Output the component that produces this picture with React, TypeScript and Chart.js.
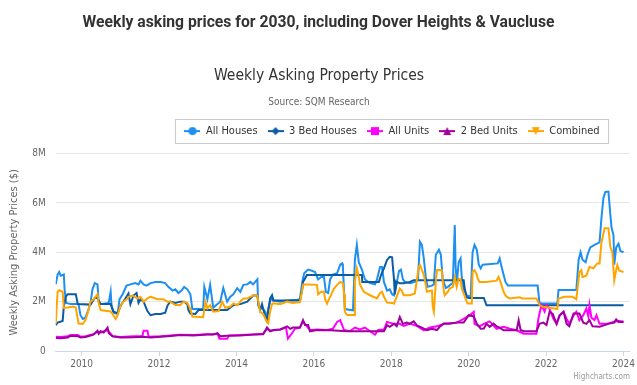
import React, { useEffect, useRef } from "react";
import { Chart, registerables, layouts } from "chart.js";

Chart.register(...registerables);

const FONT = "'DejaVu Sans Condensed', 'DejaVu Sans', sans-serif";
const HEAD_FONT = "Roboto, 'Liberation Sans', sans-serif";

const pageTitle = "Weekly asking prices for 2030, including Dover Heights & Vaucluse";
const chartTitle = "Weekly Asking Property Prices";
const chartSubtitle = "Source: SQM Research";
const yAxisTitle = "Weekly Asking Property Prices ($)";
const creditText = "Highcharts.com";

const seriesNames = ["All Houses", "3 Bed Houses", "All Units", "2 Bed Units", "Combined"];
const seriesColors = ["#1c8ff0", "#0b5ca3", "#ff00ff", "#a000a0", "#ffa500"];
const seriesMarkers = ["circle", "diamond", "square", "triangle", "triangle-down"];

const xTickYears = [2010, 2012, 2014, 2016, 2018, 2020, 2022, 2024];
const yTickValues = [0, 2000000, 4000000, 6000000, 8000000];
const xMin = 2009.33;
const xMax = 2024.15;

// [decimal year, price in $M]
const allHouses = [[2009.33,2.7],[2009.38,3.1],[2009.42,3.2],[2009.46,3.05],[2009.54,3.1],[2009.56,2.5],[2009.60,1.95],[2009.72,1.9],[2009.92,1.9],[2009.97,1.45],[2010.03,1.3],[2010.10,1.35],[2010.18,1.7],[2010.23,1.95],[2010.28,2.5],[2010.34,2.75],[2010.41,2.7],[2010.44,2.0],[2010.49,1.9],[2010.70,1.95],[2010.75,2.4],[2010.77,1.9],[2010.82,1.55],[2010.93,1.5],[2010.98,2.1],[2011.06,2.3],[2011.16,2.65],[2011.26,2.7],[2011.39,2.75],[2011.47,2.7],[2011.52,2.85],[2011.60,2.7],[2011.68,2.65],[2011.78,2.75],[2011.91,2.8],[2012.04,2.8],[2012.16,2.75],[2012.24,2.6],[2012.35,2.45],[2012.42,2.5],[2012.50,2.35],[2012.58,2.45],[2012.65,2.6],[2012.73,2.5],[2012.81,2.3],[2012.86,1.7],[2013.14,1.7],[2013.17,2.6],[2013.25,2.1],[2013.32,2.68],[2013.40,1.75],[2013.51,1.9],[2013.58,2.0],[2013.66,2.55],[2013.76,2.0],[2013.84,2.2],[2013.92,2.3],[2014.02,2.55],[2014.10,2.4],[2014.18,2.68],[2014.28,2.7],[2014.36,2.8],[2014.43,2.7],[2014.54,2.9],[2014.56,1.85],[2014.61,1.7],[2014.66,1.75],[2014.74,1.6],[2014.79,1.35],[2014.82,1.7],[2014.87,2.0],[2014.92,2.2],[2014.95,2.05],[2015.13,2.0],[2015.31,2.05],[2015.57,2.08],[2015.64,2.1],[2015.70,2.8],[2015.75,3.15],[2015.85,3.3],[2015.95,3.25],[2016.03,3.2],[2016.11,2.9],[2016.19,3.0],[2016.26,3.0],[2016.31,2.4],[2016.37,2.35],[2016.42,2.9],[2016.49,3.1],[2016.60,3.15],[2016.68,3.5],[2016.73,3.55],[2016.75,3.4],[2016.80,1.7],[2017.01,1.65],[2017.06,3.7],[2017.11,4.3],[2017.16,3.6],[2017.24,3.3],[2017.32,2.9],[2017.45,2.75],[2017.58,2.7],[2017.63,2.9],[2017.71,3.4],[2017.76,3.4],[2017.81,2.8],[2017.89,2.45],[2017.96,2.5],[2018.02,2.3],[2018.07,2.25],[2018.12,2.6],[2018.20,3.25],[2018.25,3.3],[2018.30,2.9],[2018.35,2.8],[2018.48,2.75],[2018.61,2.8],[2018.69,2.9],[2018.74,4.43],[2018.79,4.3],[2018.84,3.75],[2018.89,3.0],[2018.94,2.6],[2019.05,2.65],[2019.10,2.7],[2019.15,3.9],[2019.23,4.1],[2019.28,3.9],[2019.33,2.9],[2019.41,2.55],[2019.46,2.6],[2019.54,2.7],[2019.59,2.75],[2019.64,5.1],[2019.66,3.5],[2019.69,2.7],[2019.74,3.6],[2019.79,3.75],[2019.82,3.0],[2019.87,2.5],[2019.95,2.25],[2020.05,2.2],[2020.10,4.0],[2020.15,4.3],[2020.21,4.1],[2020.26,3.5],[2020.31,3.35],[2020.36,3.5],[2020.75,3.55],[2020.80,3.75],[2020.85,3.4],[2020.90,3.1],[2020.95,2.8],[2021.01,2.65],[2021.78,2.65],[2021.83,1.92],[2022.29,1.92],[2022.32,2.47],[2022.78,2.47],[2022.84,3.7],[2022.89,4.0],[2022.94,3.7],[2023.02,3.6],[2023.07,3.9],[2023.14,4.2],[2023.25,4.3],[2023.38,4.4],[2023.43,5.4],[2023.48,6.2],[2023.53,6.45],[2023.61,6.46],[2023.66,5.5],[2023.69,5.0],[2023.74,4.7],[2023.76,3.5],[2023.81,4.2],[2023.87,4.35],[2023.92,4.05],[2024.00,4.0]];

const threeBedHouses = [[2009.33,1.05],[2009.38,1.15],[2009.51,1.22],[2009.54,1.8],[2009.59,2.2],[2009.64,2.3],[2009.85,2.3],[2009.90,1.9],[2010.23,1.88],[2010.34,2.15],[2010.41,2.15],[2010.49,1.9],[2010.75,1.9],[2010.82,1.6],[2010.93,1.52],[2011.01,1.85],[2011.13,2.13],[2011.21,2.33],[2011.26,1.9],[2011.34,2.25],[2011.42,2.35],[2011.47,1.95],[2011.52,2.1],[2011.60,2.0],[2011.70,1.62],[2011.78,1.45],[2011.91,1.5],[2012.04,1.5],[2012.16,1.55],[2012.22,1.85],[2012.29,2.0],[2012.42,1.95],[2012.55,2.0],[2012.65,2.0],[2012.73,1.9],[2012.76,1.66],[2012.81,1.52],[2012.94,1.5],[2013.02,1.66],[2013.40,1.66],[2013.76,1.66],[2013.92,1.86],[2014.10,1.9],[2014.28,2.0],[2014.43,2.25],[2014.54,2.25],[2014.56,2.0],[2014.61,1.66],[2014.66,1.9],[2014.74,1.4],[2014.79,1.3],[2014.82,1.6],[2014.87,2.13],[2014.92,2.26],[2014.95,2.05],[2015.31,2.05],[2015.64,2.05],[2015.70,2.5],[2015.72,2.8],[2015.82,3.08],[2017.24,3.08],[2017.25,2.8],[2017.68,2.8],[2017.74,3.1],[2017.81,3.35],[2017.89,3.69],[2017.96,3.82],[2018.02,3.8],[2018.07,2.9],[2018.09,2.3],[2018.14,2.8],[2018.22,2.75],[2018.32,2.75],[2018.48,2.8],[2018.58,2.87],[2019.87,2.87],[2019.90,2.5],[2019.95,2.17],[2020.00,2.15],[2020.39,2.15],[2020.46,1.85],[2024.00,1.85]];

const allUnits = [[2009.33,0.58],[2009.46,0.57],[2009.64,0.6],[2009.72,0.65],[2009.90,0.65],[2009.97,0.58],[2010.10,0.6],[2010.23,0.65],[2010.31,0.68],[2010.41,0.78],[2010.49,0.75],[2010.67,0.85],[2010.80,0.6],[2011.01,0.57],[2011.34,0.6],[2011.57,0.6],[2011.60,0.82],[2011.70,0.82],[2011.73,0.58],[2012.04,0.6],[2012.22,0.62],[2012.55,0.66],[2012.89,0.65],[2013.25,0.68],[2013.40,0.68],[2013.51,0.7],[2013.56,0.5],[2013.76,0.5],[2013.81,0.63],[2014.10,0.65],[2014.43,0.67],[2014.69,0.7],[2014.79,0.9],[2014.87,0.82],[2015.13,0.87],[2015.28,0.95],[2015.33,0.5],[2015.44,0.73],[2015.51,0.9],[2015.64,0.95],[2015.72,1.2],[2015.82,1.0],[2015.90,0.85],[2016.08,0.87],[2016.34,0.85],[2016.49,0.9],[2016.60,1.18],[2016.68,1.25],[2016.78,0.85],[2016.93,0.8],[2017.06,0.95],[2017.19,0.87],[2017.32,0.95],[2017.45,0.8],[2017.58,0.66],[2017.66,0.85],[2017.81,0.87],[2017.89,1.18],[2018.07,1.1],[2018.22,1.1],[2018.32,1.02],[2018.48,1.1],[2018.66,1.02],[2018.84,0.84],[2019.00,0.95],[2019.18,1.0],[2019.36,1.11],[2019.69,1.15],[2019.87,1.3],[2020.03,1.45],[2020.13,1.59],[2020.15,1.1],[2020.28,1.0],[2020.39,1.1],[2020.54,1.2],[2020.72,0.9],[2020.90,0.98],[2021.06,0.9],[2021.24,0.84],[2021.42,0.7],[2021.75,0.7],[2021.80,1.32],[2021.88,1.86],[2021.96,1.6],[2022.01,1.86],[2022.09,1.7],[2022.19,1.3],[2022.27,1.1],[2022.35,1.45],[2022.45,1.59],[2022.53,1.3],[2022.60,1.1],[2022.71,1.45],[2022.78,1.59],[2022.86,1.25],[2022.96,1.45],[2023.04,1.72],[2023.09,1.4],[2023.12,1.86],[2023.17,1.35],[2023.25,1.25],[2023.30,1.45],[2023.38,1.1],[2023.56,1.1],[2023.74,1.18],[2023.87,1.22],[2024.00,1.2]];

const twoBedUnits = [[2009.33,0.53],[2009.46,0.52],[2009.64,0.55],[2009.72,0.62],[2009.90,0.6],[2009.97,0.55],[2010.10,0.57],[2010.23,0.63],[2010.31,0.67],[2010.41,0.82],[2010.44,0.7],[2010.49,0.8],[2010.57,0.75],[2010.67,0.95],[2010.70,0.72],[2010.80,0.6],[2011.01,0.55],[2011.34,0.56],[2011.60,0.58],[2011.78,0.55],[2012.04,0.58],[2012.22,0.6],[2012.55,0.65],[2012.89,0.63],[2013.25,0.67],[2013.40,0.67],[2013.51,0.72],[2013.58,0.6],[2013.76,0.62],[2014.10,0.63],[2014.43,0.67],[2014.69,0.68],[2014.79,0.95],[2014.87,0.8],[2014.95,0.85],[2015.13,0.87],[2015.31,1.0],[2015.39,0.9],[2015.46,0.95],[2015.64,0.95],[2015.72,1.25],[2015.77,1.05],[2015.85,1.05],[2015.90,0.8],[2016.08,0.85],[2016.42,0.84],[2016.86,0.8],[2017.81,0.8],[2017.89,1.05],[2017.96,0.98],[2018.07,1.1],[2018.14,1.0],[2018.22,1.38],[2018.30,1.1],[2018.40,1.15],[2018.48,1.11],[2018.58,1.2],[2018.66,1.04],[2018.79,0.95],[2018.92,0.84],[2019.05,0.9],[2019.18,0.85],[2019.25,0.98],[2019.36,1.11],[2019.51,1.1],[2019.69,1.15],[2019.87,1.15],[2020.00,1.45],[2020.13,1.4],[2020.21,1.1],[2020.31,0.9],[2020.39,0.91],[2020.46,1.1],[2020.54,0.98],[2020.64,1.11],[2020.72,1.0],[2020.80,0.95],[2020.90,0.84],[2021.24,0.84],[2021.29,1.25],[2021.34,0.85],[2021.42,0.8],[2021.75,0.8],[2021.83,1.1],[2021.93,1.15],[2022.01,1.05],[2022.09,1.59],[2022.17,1.5],[2022.27,1.1],[2022.35,1.45],[2022.45,1.59],[2022.53,1.1],[2022.60,1.0],[2022.71,1.52],[2022.86,1.52],[2022.96,1.15],[2023.04,1.1],[2023.12,1.25],[2023.20,1.0],[2023.38,0.98],[2023.51,1.05],[2023.63,1.11],[2023.76,1.15],[2023.81,1.28],[2023.87,1.18],[2024.00,1.18]];

const combined = [[2009.33,1.1],[2009.38,2.4],[2009.42,2.46],[2009.51,2.4],[2009.54,1.75],[2009.64,1.76],[2009.77,1.8],[2009.85,1.76],[2009.90,1.3],[2009.92,1.11],[2010.03,1.1],[2010.10,1.25],[2010.15,1.5],[2010.23,2.0],[2010.31,2.1],[2010.41,2.3],[2010.44,1.95],[2010.49,1.66],[2010.75,1.6],[2010.82,1.45],[2010.88,1.3],[2010.93,1.45],[2011.01,1.86],[2011.08,2.0],[2011.19,2.13],[2011.21,2.2],[2011.31,2.25],[2011.44,2.13],[2011.52,2.2],[2011.60,2.0],[2011.70,2.13],[2011.78,2.2],[2011.96,2.1],[2012.11,2.1],[2012.22,2.0],[2012.29,2.0],[2012.42,1.86],[2012.55,1.86],[2012.63,2.0],[2012.73,1.95],[2012.81,1.7],[2012.86,1.4],[2013.14,1.37],[2013.20,2.0],[2013.25,1.73],[2013.32,1.86],[2013.40,1.59],[2013.54,1.62],[2013.63,2.0],[2013.71,1.75],[2013.84,1.8],[2013.92,1.93],[2014.02,1.85],[2014.10,2.0],[2014.18,2.13],[2014.28,2.13],[2014.43,2.25],[2014.54,2.25],[2014.56,2.05],[2014.61,1.59],[2014.69,1.5],[2014.79,1.16],[2014.82,1.12],[2014.87,1.6],[2014.92,1.9],[2014.95,1.93],[2015.13,1.9],[2015.31,2.0],[2015.46,1.95],[2015.64,1.98],[2015.70,2.5],[2015.72,2.7],[2015.82,2.7],[2016.08,2.68],[2016.11,2.3],[2016.19,2.4],[2016.26,2.4],[2016.29,2.1],[2016.34,1.92],[2016.39,2.1],[2016.52,2.53],[2016.60,2.68],[2016.68,2.8],[2016.75,2.75],[2016.78,2.3],[2016.80,1.59],[2016.86,1.46],[2017.04,1.46],[2017.06,2.8],[2017.11,3.35],[2017.16,3.0],[2017.19,2.7],[2017.29,2.4],[2017.45,2.26],[2017.63,2.13],[2017.71,2.35],[2017.76,2.4],[2017.81,2.2],[2017.89,1.96],[2018.02,1.95],[2018.07,1.92],[2018.14,2.2],[2018.22,2.53],[2018.27,2.45],[2018.32,2.26],[2018.48,2.26],[2018.61,2.33],[2018.71,3.41],[2018.74,3.48],[2018.79,3.3],[2018.84,3.08],[2018.89,2.7],[2018.92,2.4],[2019.05,2.45],[2019.07,1.8],[2019.10,1.59],[2019.15,2.8],[2019.18,3.28],[2019.30,3.28],[2019.36,2.4],[2019.38,2.26],[2019.46,2.4],[2019.51,2.53],[2019.59,2.6],[2019.64,3.0],[2019.69,2.6],[2019.74,2.94],[2019.79,2.9],[2019.82,2.53],[2019.90,2.2],[2019.95,2.0],[2019.97,1.92],[2020.08,1.92],[2020.10,3.2],[2020.15,3.28],[2020.21,3.1],[2020.23,2.94],[2020.28,2.8],[2020.46,2.8],[2020.72,2.85],[2020.77,3.0],[2020.82,2.8],[2020.88,2.5],[2020.93,2.3],[2020.98,2.2],[2021.06,2.13],[2021.31,2.18],[2021.39,2.13],[2021.75,2.13],[2021.83,1.86],[2021.91,1.79],[2022.09,1.75],[2022.29,1.7],[2022.32,2.13],[2022.47,2.2],[2022.68,2.2],[2022.78,2.1],[2022.86,3.2],[2022.91,3.28],[2022.94,3.0],[2023.04,3.05],[2023.12,3.41],[2023.22,3.35],[2023.32,3.55],[2023.38,3.55],[2023.43,4.4],[2023.51,4.97],[2023.61,4.97],[2023.66,4.2],[2023.71,4.0],[2023.76,2.87],[2023.81,3.28],[2023.84,3.48],[2023.89,3.25],[2024.00,3.2]];

const seriesData = [allHouses, threeBedHouses, allUnits, twoBedUnits, combined];

function makeIcon(color: string, marker: string): HTMLCanvasElement {
  const c = document.createElement("canvas");
  c.width = 16;
  c.height = 12;
  const g = c.getContext("2d") as CanvasRenderingContext2D;
  g.strokeStyle = color;
  g.lineWidth = 2;
  g.beginPath();
  g.moveTo(0, 6);
  g.lineTo(16, 6);
  g.stroke();
  g.fillStyle = color;
  g.beginPath();
  if (marker === "circle") {
    g.arc(8, 6, 4, 0, Math.PI * 2);
  } else if (marker === "diamond") {
    g.moveTo(8, 2); g.lineTo(12, 6); g.lineTo(8, 10); g.lineTo(4, 6); g.closePath();
  } else if (marker === "square") {
    g.rect(4, 2, 8, 8);
  } else if (marker === "triangle") {
    g.moveTo(8, 2); g.lineTo(12, 10); g.lineTo(4, 10); g.closePath();
  } else {
    g.moveTo(4, 2); g.lineTo(12, 2); g.lineTo(8, 10); g.closePath();
  }
  g.fill();
  return c;
}

// Shift the legend horizontally (Highcharts-like placement) and draw its border.
const LEGEND_CENTER_X = 392;
const legendBorder = {
  id: "legendBorder",
  afterUpdate(chart: any) {
    const lg = chart.legend;
    if (!lg || !lg.legendHitBoxes || !lg.legendHitBoxes.length) return;
    const boxes = lg.legendHitBoxes;
    const left = Math.min(...boxes.map((b: any) => b.left));
    const right = Math.max(...boxes.map((b: any) => b.left + b.width));
    const dx = Math.round(LEGEND_CENTER_X - (left + right) / 2);
    lg.left += dx;
    lg.right += dx;
    boxes.forEach((b: any) => { b.left += dx; });
  },
  afterDraw(chart: any) {
    const lg = chart.legend;
    if (!lg || !lg.legendHitBoxes || !lg.legendHitBoxes.length) return;
    const boxes = lg.legendHitBoxes;
    const left = Math.min(...boxes.map((b: any) => b.left));
    const right = Math.max(...boxes.map((b: any) => b.left + b.width));
    const top = Math.min(...boxes.map((b: any) => b.top));
    const h = boxes[0].height;
    const ctx = chart.ctx;
    ctx.save();
    ctx.strokeStyle = "#cccccc";
    ctx.lineWidth = 1;
    const y = Math.round(top + h / 2 - 12) + 0.5;
    ctx.strokeRect(Math.round(left - 9) + 0.5, y, Math.round(right - left + 18), 24);
    ctx.restore();
  },
};

// Empty layout box that leaves a gap between the legend and the plot.
const spacer = {
  id: "spacer",
  beforeInit(chart: any) {
    const box: any = {
      position: "top",
      weight: 500,
      fullSize: true,
      options: { stackWeight: 1 },
      left: 0, top: 0, right: 0, bottom: 0, width: 0, height: 0,
      update(maxWidth: number) {
        this.width = maxWidth;
        this.height = 7;
      },
      draw() {},
      isHorizontal() { return true; },
      getPadding() { return { left: 0, top: 0, right: 0, bottom: 0 }; },
    };
    layouts.addBox(chart, box);
  },
};

export default function App() {
  const ref = useRef<HTMLCanvasElement | null>(null);

  useEffect(() => {
    if (!ref.current) return;
    const icons = seriesColors.map((c, i) => makeIcon(c, seriesMarkers[i]));
    const datasets = seriesNames.map((name, i) => ({
      label: name,
      data: seriesData[i].map(([x, y]) => ({ x, y: y * 1000000 })),
      borderColor: seriesColors[i],
      backgroundColor: seriesColors[i],
      borderWidth: 2,
      pointRadius: 0,
      tension: 0,
      fill: false,
      order: seriesNames.length - i,
    }));
    let chart: any = null;
    try {
      chart = new Chart(ref.current, {
        type: "line",
        data: { datasets },
        options: {
          animation: false,
          responsive: false,
          maintainAspectRatio: false,
          events: [],
          layout: { padding: { top: 0, left: 2, right: 1, bottom: 13 } },
          plugins: {
            title: {
              display: true,
              text: chartTitle,
              color: "#333333",
              font: { family: FONT, size: 15.5, weight: "normal" },
              padding: { top: 67, bottom: 11 },
            },
            subtitle: {
              display: true,
              text: chartSubtitle,
              color: "#666666",
              font: { family: FONT, size: 10, weight: "normal" },
              padding: { top: 0, bottom: 7 },
            },
            legend: {
              display: true,
              position: "top",
              labels: {
                usePointStyle: true,
                pointStyleWidth: 16,
                padding: 10,
                color: "#333333",
                font: { family: FONT, size: 11, weight: "normal" },
                generateLabels: () =>
                  seriesNames.map((name, i) => ({
                    text: name,
                    pointStyle: icons[i],
                    fillStyle: seriesColors[i],
                    strokeStyle: seriesColors[i],
                    lineWidth: 0,
                    hidden: false,
                    datasetIndex: i,
                    fontColor: "#333333",
                  })),
              },
            },
            tooltip: { enabled: false },
          },
          scales: {
            x: {
              type: "linear",
              min: xMin,
              max: xMax,
              afterBuildTicks: (axis: any) => {
                axis.ticks = xTickYears.map((v) => ({ value: v }));
              },
              ticks: {
                autoSkip: false,
                maxRotation: 0,
                color: "#666666",
                font: { family: FONT, size: 10 },
                padding: 2,
                callback: (v: any) => String(v),
              },
              grid: { drawOnChartArea: false, drawTicks: true, tickLength: 5, color: "#ccd6eb" },
              border: { display: true, color: "#ccd6eb" },
            },
            y: {
              type: "linear",
              min: 0,
              max: 8000000,
              afterBuildTicks: (axis: any) => {
                axis.ticks = yTickValues.map((v) => ({ value: v }));
              },
              ticks: {
                color: "#666666",
                font: { family: FONT, size: 10 },
                padding: 10,
                callback: (v: any) => (v === 0 ? "0" : v / 1000000 + "M"),
              },
              grid: { color: "#e6e6e6", drawTicks: false },
              border: { display: false },
              title: {
                display: true,
                text: yAxisTitle,
                color: "#666666",
                font: { family: FONT, size: 11 },
                padding: { top: 6, bottom: 1 },
              },
            },
          },
        } as any,
        plugins: [spacer, legendBorder],
      });
    } catch (e) {
      console.error(e);
    }
    return () => { if (chart) chart.destroy(); };
  }, []);

  return (
    <div style={{ position: "fixed", left: 0, top: 0, width: 637, height: 385, background: "#ffffff", overflow: "hidden" }}>
      <canvas ref={ref} width={637} height={385} style={{ position: "absolute", left: 0, top: 0, width: 637, height: 385, display: "block" }} />
      <div style={{ position: "absolute", left: 0, top: 12, width: 637, textAlign: "center", fontFamily: HEAD_FONT, fontWeight: 700, fontSize: 15.7, color: "#333333", lineHeight: "20px" }}>
        {pageTitle}
      </div>
      <div style={{ position: "absolute", right: 7, bottom: 3, fontFamily: FONT, fontSize: 8, color: "#999999", lineHeight: "10px" }}>
        {creditText}
      </div>
    </div>
  );
}
